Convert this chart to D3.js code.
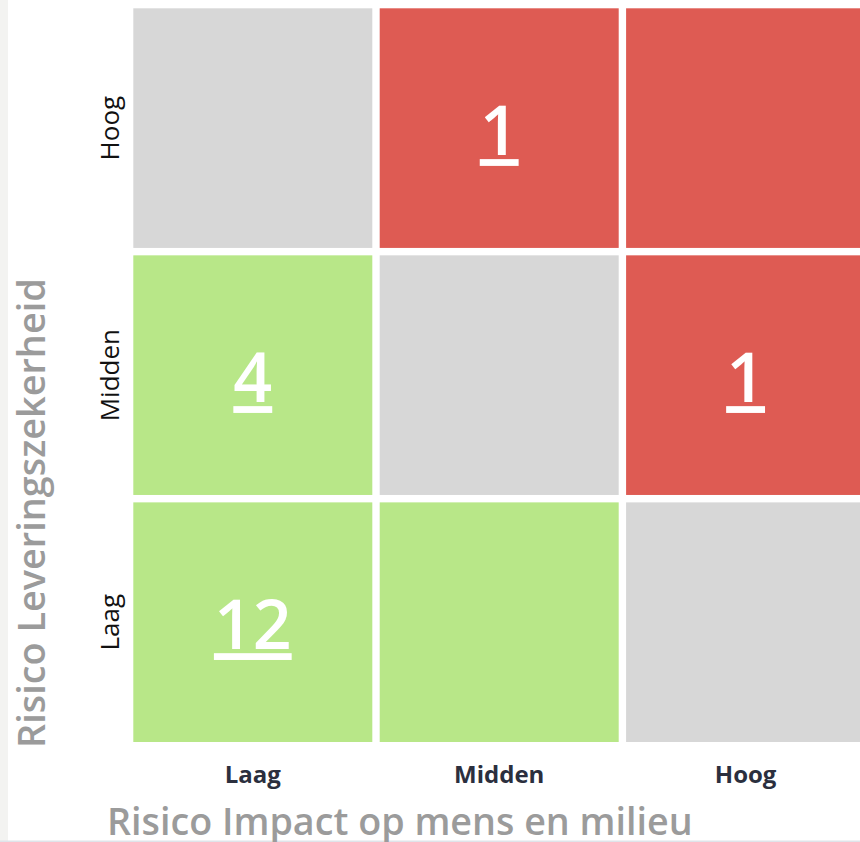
<!DOCTYPE html>
<html>
<head>
<meta charset="utf-8">
<script src="https://cdn.jsdelivr.net/npm/d3@7"></script>
<style>
  body { margin: 0; background: #fff; overflow: hidden; }
  text { font-family: "Open Sans", sans-serif; }
  .count { fill: #fff; text-decoration: underline; }
</style>
</head>
<body>
<div id="container"></div>
<script>
// Categories on both axes
var impactLevels = ["Laag", "Midden", "Hoog"];      // x axis
var supplyLevels = ["Hoog", "Midden", "Laag"];      // y axis, top to bottom

// Risk class per cell, row by row (y = Hoog, Midden, Laag)
var riskClass = [
  ["neutral", "high", "high"],
  ["low", "neutral", "high"],
  ["low", "low", "neutral"]
];

// Number of items per cell (null = empty)
var counts = [
  [null, 1, null],
  [4, null, 1],
  [12, null, null]
];

var classColors = { low: "#b8e788", neutral: "#d7d7d7", high: "#de5b53" };

var width = 860;
var height = 842;

var svg = d3.select("#container")
            .append("svg")
            .attr("width", width)
            .attr("height", height);

// light strip on the left and faint line at the bottom
svg.append("rect").attr("x", 0).attr("y", 0).attr("width", 8).attr("height", height).attr("fill", "#f3f3f1");
svg.append("rect").attr("x", 0).attr("y", height - 1.5).attr("width", width).attr("height", 1.5).attr("fill", "#dfe4ea");

var xScale = d3.scaleBand()
               .domain(impactLevels)
               .range([133.3, 865.1])
               .paddingInner(0.03);

var yScale = d3.scaleBand()
               .domain(supplyLevels)
               .range([8.3, 742])
               .paddingInner(0.03);

// flatten to cells
var cells = [];
supplyLevels.forEach(function(y, i) {
  impactLevels.forEach(function(x, j) {
    cells.push({ x: x, y: y, cls: riskClass[i][j], count: counts[i][j] });
  });
});

svg.selectAll("rect.cell")
   .data(cells)
   .enter()
   .append("rect")
   .attr("class", "cell")
   .attr("x", (d) => xScale(d.x))
   .attr("y", (d) => yScale(d.y))
   .attr("width", xScale.bandwidth())
   .attr("height", yScale.bandwidth())
   .attr("fill", (d) => classColors[d.cls]);

svg.selectAll("text.count")
   .data(cells.filter((d) => d.count !== null))
   .enter()
   .append("text")
   .attr("class", "count")
   .attr("x", (d) => xScale(d.x) + xScale.bandwidth() / 2)
   .attr("y", (d) => yScale(d.y) + yScale.bandwidth() / 2 + 27)
   .attr("text-anchor", "middle")
   .attr("font-size", 68)
   .attr("font-weight", 600)
   .text((d) => d.count);

// size a text so it spans a given length
function fit(sel, target) {
  var n = sel.node();
  var size = +sel.attr("font-size");
  sel.attr("font-size", size * target / n.getComputedTextLength());
}

// x axis labels
svg.selectAll("text.xlab")
   .data(impactLevels)
   .enter()
   .append("text")
   .attr("class", "xlab")
   .attr("x", (d) => xScale(d) + xScale.bandwidth() / 2)
   .attr("y", 783)
   .attr("text-anchor", "middle")
   .attr("font-size", 24)
   .attr("font-weight", 700)
   .attr("fill", "#2b2f3e")
   .text((d) => d);

// y axis labels
svg.selectAll("text.ylab")
   .data(supplyLevels)
   .enter()
   .append("text")
   .attr("class", "ylab")
   .attr("transform", (d) => "translate(119," + (yScale(d) + yScale.bandwidth() / 2) + ") rotate(-90)")
   .attr("text-anchor", "middle")
   .attr("font-size", 26)
   .attr("font-weight", 500)
   .attr("fill", "#111")
   .text((d) => d);

// axis titles
var xTitle = svg.append("text")
   .attr("x", 107)
   .attr("y", 835)
   .attr("font-size", 34)
   .attr("font-weight", 600)
   .attr("fill", "#9b9b9b")
   .text("Risico Impact op mens en milieu");
fit(xTitle, 586);

var yTitle = svg.append("text")
   .attr("transform", "translate(45,748) rotate(-90)")
   .attr("font-size", 34)
   .attr("font-weight", 600)
   .attr("fill", "#9b9b9b")
   .text("Risico Leveringszekerheid");
fit(yTitle, 470);
</script>
</body>
</html>
